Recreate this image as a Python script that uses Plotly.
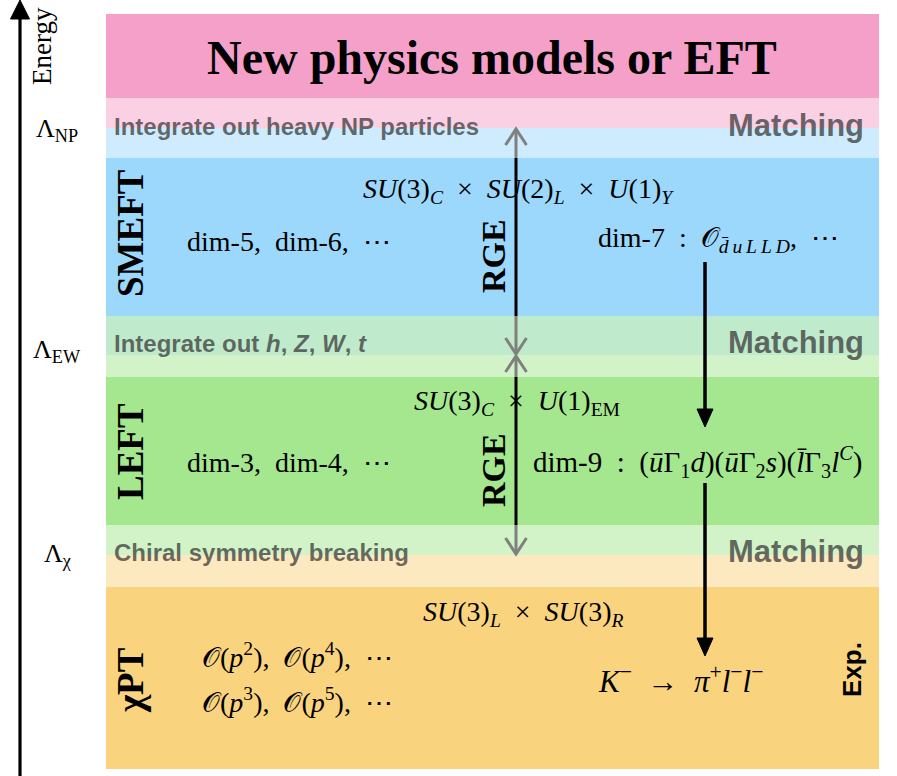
import plotly.graph_objects as go

# ---------------- data (diagram content) ----------------
W, H = 897, 776
box_left, box_right = 106, 879

# solid bands: (top, bottom, colour)
band_tops = [14, 128, 316, 355, 555]
band_bottoms = [128, 316, 355, 555, 769]
band_colors = ["#f4a0c9", "#9cd8fc", "#80d598", "#a4e78f", "#fad37e"]

# translucent transition bands
trans_tops = [98, 316, 525]
trans_bottoms = [158, 377, 587]
trans_labels = ["Integrate out heavy NP particles",
                "Integrate out <i>h</i>, <i>Z</i>, <i>W</i>, <i>t</i>",
                "Chiral symmetry breaking"]
trans_label_y = [126, 343, 552]
matching_y = [125, 342, 551]

scale_labels = ["Λ<sub>NP</sub>", "Λ<sub>EW</sub>", "Λ<sub>χ</sub>"]
scale_y = [130, 351, 555]

theory_names = ["SMEFT", "LEFT", "χPT"]
theory_y = [233, 452, 680]

SP = "\u2002"   # en space
TH = "\u2009"   # thin space
groups = [f"<i>SU</i>(3)<sub><i>C</i></sub>{SP}×{SP}<i>SU</i>(2)<sub><i>L</i></sub>{SP}×{SP}<i>U</i>(1)<sub><i>Y</i></sub>",
          f"<i>SU</i>(3)<sub><i>C</i></sub>{SP}×{SP}<i>U</i>(1)<sub>EM</sub>",
          f"<i>SU</i>(3)<sub><i>L</i></sub>{SP}×{SP}<i>SU</i>(3)<sub><i>R</i></sub>"]
groups_x = [518, 517, 523]
groups_y = [190, 402, 613]

left_ops = [f"dim-5,{SP}dim-6,{SP}⋯", f"dim-3,{SP}dim-4,{SP}⋯",
            f"𝒪(<i>p</i><sup>2</sup>),{SP}𝒪(<i>p</i><sup>4</sup>),{SP}⋯",
            f"𝒪(<i>p</i><sup>3</sup>),{SP}𝒪(<i>p</i><sup>5</sup>),{SP}⋯"]
left_ops_x = [185, 185, 200, 200]
left_ops_y = [241, 462, 655, 700]

right_ops = [f"dim-7{SP}:{SP}𝒪<sub><i>d\u0304{TH}u{TH}L{TH}L{TH}D</i></sub>,{SP}⋯",
             f"dim-9{SP}:{SP}(<i>ū</i>Γ<sub>1</sub><i>d</i>)(<i>ū</i>Γ<sub>2</sub><i>s</i>)(<i>l\u0304</i>Γ<sub>3</sub><i>l</i><sup><i>C</i></sup>)",
             f"<i>K</i><sup>−</sup>{SP}→{SP}<i>π</i><sup>+</sup><i>l</i><sup>−</sup><i>l</i><sup>−</sup>"]
right_ops_x = [596, 531, 596]
right_ops_y = [239, 462, 679]
right_ops_size = [28, 29, 31]

# RGE double arrows (y_top, y_bottom) and label positions
rge_x = 516
rge_spans = [(128, 355), (355, 555)]
rge_label_y = [256, 470]

# process arrows (y_start, y_tip)
proc_x = 705
proc_spans = [(262, 427), (483, 656)]

# ---------------- figure ----------------
serif = "Liberation Serif, DejaVu Serif, serif"
sans = "Liberation Sans, Arial, sans-serif"
gray = "rgba(60,60,60,0.75)"

shapes = []
for t, b, c in zip(band_tops, band_bottoms, band_colors):
    shapes.append(dict(type="rect", x0=box_left, x1=box_right, y0=t, y1=b,
                       fillcolor=c, line_width=0, layer="above"))

# RGE arrows (drawn under the translucent bands)
for (t, b) in rge_spans:
    shapes.append(dict(type="line", x0=rge_x, x1=rge_x, y0=t + 1, y1=b - 1,
                       line=dict(color="black", width=3), layer="above"))
    shapes.append(dict(type="path", path=f"M {rge_x-10.5},{t+17} L {rge_x},{t+1} L {rge_x+10.5},{t+17}",
                       line=dict(color="black", width=3), layer="above"))
    shapes.append(dict(type="path", path=f"M {rge_x-10.5},{b-17} L {rge_x},{b-1} L {rge_x+10.5},{b-17}",
                       line=dict(color="black", width=3), layer="above"))

for t, b in zip(trans_tops, trans_bottoms):
    shapes.append(dict(type="rect", x0=box_left, x1=box_right + 1, y0=t, y1=b,
                       fillcolor="rgba(255,255,255,0.5)", line_width=0, layer="above"))

# process arrows (on top)
for (s, tip) in proc_spans:
    shapes.append(dict(type="line", x0=proc_x, x1=proc_x, y0=s, y1=tip - 15,
                       line=dict(color="black", width=3.5), layer="above"))
    shapes.append(dict(type="path", path=f"M {proc_x-8},{tip-18} L {proc_x+8},{tip-18} L {proc_x},{tip} Z",
                       fillcolor="black", line=dict(color="black", width=1), layer="above"))

# energy axis arrow
shapes.append(dict(type="line", x0=20, x1=20, y0=H, y1=16,
                   line=dict(color="black", width=3.2), layer="above"))
shapes.append(dict(type="path", path="M 10.5,19 L 29.5,19 L 20,0 Z",
                   fillcolor="black", line=dict(color="black", width=1), layer="above"))

ann = []
def text(x, y, s, size, family=serif, color="black", xanchor="center", angle=0):
    ann.append(dict(x=x, y=y, xref="x", yref="y", text=s, showarrow=False,
                    font=dict(size=size, family=family, color=color),
                    xanchor=xanchor, yanchor="middle", textangle=angle))

text(492, 57, "<b>New physics models or EFT</b>", 48)
text(42, 46, "Energy", 27, angle=-90)

for s, y in zip(scale_labels, scale_y):
    text(57, y, s, 26)

for s, y in zip(trans_labels, trans_label_y):
    text(112, y, f"<b>{s}</b>", 24, family=sans, color=gray, xanchor="left")
for y in matching_y:
    text(866, y, "<b>Matching</b>", 31, family=sans, color=gray, xanchor="right")

for s, y in zip(theory_names, theory_y):
    text(130, y, f"<b>{s}</b>", 37, angle=-90)

for y in rge_label_y:
    text(493, y, "<b>RGE</b>", 34, angle=-90)

for s, x, y in zip(groups, groups_x, groups_y):
    text(x, y, s, 28)
for s, x, y in zip(left_ops, left_ops_x, left_ops_y):
    text(x, y, s, 28, xanchor="left")
for s, x, y, fs in zip(right_ops, right_ops_x, right_ops_y, right_ops_size):
    text(x, y, s, fs, xanchor="left")

text(852, 670, "<b>Exp.</b>", 26, family=sans, angle=-90)

fig = go.Figure()
fig.add_trace(go.Scatter(x=[0, W], y=[0, H], mode="markers",
                         marker=dict(opacity=0), hoverinfo="skip", showlegend=False))
fig.update_layout(
    width=W, height=H, margin=dict(l=0, r=0, t=0, b=0),
    paper_bgcolor="white", plot_bgcolor="white",
    xaxis=dict(range=[0, W], visible=False, fixedrange=True),
    yaxis=dict(range=[H, 0], visible=False, fixedrange=True),
    shapes=shapes, annotations=ann, showlegend=False,
)
fig.write_html("out.html", config={"displayModeBar": False},
               post_script="document.body.style.margin='0';document.body.style.overflow='hidden';")
